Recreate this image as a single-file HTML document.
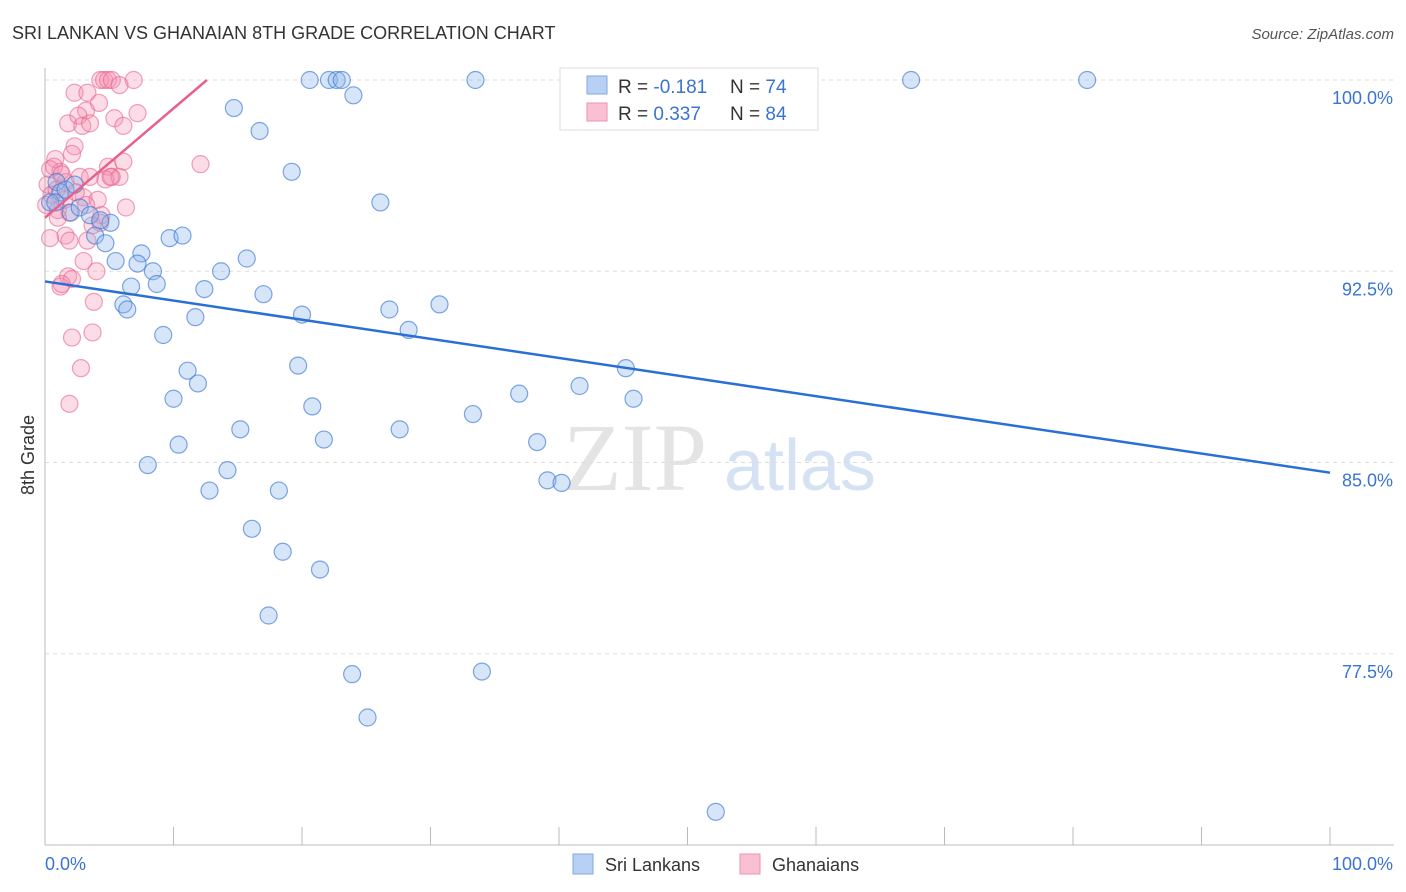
<!DOCTYPE html>
<html><head><meta charset="utf-8"><style>
body{margin:0;background:#fff;font-family:"Liberation Sans",sans-serif;}
svg{display:block}
</style></head><body>
<svg id="chart" width="1406" height="892">
<text x="12" y="39" font-size="18" fill="#333">SRI LANKAN VS GHANAIAN 8TH GRADE CORRELATION CHART</text>
<text x="1394" y="39" font-size="15" fill="#555" font-style="italic" text-anchor="end">Source: ZipAtlas.com</text>
<text x="635" y="490" font-size="96" fill="#e4e4e4" font-family="Liberation Serif,serif" text-anchor="middle">ZIP</text>
<text x="800" y="490" font-size="72" fill="#d4e2f4" text-anchor="middle">atlas</text>
<text transform="translate(34,455) rotate(-90)" font-size="18" fill="#333" text-anchor="middle">8th Grade</text>
<g id="grid"></g><g id="pts"></g><g id="trend"></g>
<g>
<rect x="560" y="68" width="258" height="62" fill="#fff" stroke="#ddd"/>
<rect x="587" y="76" width="20" height="18" fill="#b7d0f3" stroke="#7fa8e0"/>
<rect x="587" y="103" width="20" height="18" fill="#f8c0d2" stroke="#ef8fb0"/>
<text x="618" y="93" font-size="19" fill="#333">R = <tspan fill="#3a74d0">-0.181</tspan></text>
<text x="730" y="93" font-size="19" fill="#333">N = <tspan fill="#3a74d0">74</tspan></text>
<text x="618" y="120" font-size="19" fill="#333">R = <tspan fill="#3a74d0">0.337</tspan></text>
<text x="730" y="120" font-size="19" fill="#333">N = <tspan fill="#3a74d0">84</tspan></text>
</g>
<g>
<rect x="573" y="854" width="20" height="20" fill="#b7d0f3" stroke="#7fa8e0"/>
<text x="605" y="871" font-size="18" fill="#333">Sri Lankans</text>
<rect x="740" y="854" width="20" height="20" fill="#f8c0d2" stroke="#ef8fb0"/>
<text x="772" y="871" font-size="18" fill="#333">Ghanaians</text>
</g>
</svg>
<script>
const yTicks=[100,92.5,85,77.5];
const yTickLabels=["100.0%","92.5%","85.0%","77.5%"];
const blueX=[20.6,22.1,22.7,23.1,33.5,67.4,81.1,24.0,14.7,16.7,19.2,26.1,0.9,1.2,0.4,2.0,2.7,3.5,5.1,3.9,4.7,5.5,7.5,7.2,8.4,6.7,8.7,9.7,10.7,13.7,15.7,12.4,17.0,6.1,6.4,11.7,20.0,26.8,30.7,28.3,9.2,11.1,11.9,10.0,19.7,20.8,45.2,41.6,45.8,36.9,33.3,15.2,10.4,21.7,27.6,38.3,8.0,14.2,12.8,18.2,39.1,40.2,16.1,18.5,21.4,17.4,23.9,34.0,25.1,52.2,1.6,2.3,0.8,4.3];
const blueY=[100,100,100,100,100,100,100,99.4,98.9,98.0,96.4,95.2,96.0,95.6,95.2,94.8,95.0,94.7,94.4,93.9,93.6,92.9,93.2,92.8,92.5,91.9,92.0,93.8,93.9,92.5,93.0,91.8,91.6,91.2,91.0,90.7,90.8,91.0,91.2,90.2,90.0,88.6,88.1,87.5,88.8,87.2,88.7,88.0,87.5,87.7,86.9,86.3,85.7,85.9,86.3,85.8,84.9,84.7,83.9,83.9,84.3,84.2,82.4,81.5,80.8,79.0,76.7,76.8,75.0,71.3,95.7,95.9,95.2,94.5];
const pinkX=[4.3,4.6,4.9,5.2,6.9,5.8,2.3,3.3,3.2,4.2,1.8,2.6,2.9,3.5,5.4,6.1,7.2,2.3,2.1,0.8,0.4,1.2,1.6,2.7,3.5,4.9,5.2,6.1,12.1,4.7,5.8,0.2,0.5,1.0,1.5,1.9,3.0,4.1,6.3,4.4,3.7,1.6,0.4,3.3,1.9,3.0,4.0,1.8,2.1,1.2,1.3,3.8,3.7,2.1,2.8,1.9,0.7,0.9,1.3,2.4,3.2,1.0,0.1,4.3,5.1];
const pinkY=[100,100,100,100,100,99.8,99.5,99.5,98.8,99.1,98.3,98.6,98.2,98.3,98.5,98.2,98.7,97.4,97.1,96.9,96.5,96.4,96.0,96.2,96.2,96.6,96.2,96.8,96.7,96.1,96.2,95.9,95.5,94.9,95.3,94.8,95.4,95.3,95.0,94.7,94.3,93.9,93.8,93.7,93.7,92.9,92.5,92.3,92.2,91.9,92.0,91.3,90.1,89.9,88.7,87.3,96.6,95.7,96.3,95.6,95.1,94.6,95.1,94.4,96.2];
const blueTrend=[0,92.1,100,84.6];
const pinkTrend=[0,94.6,12.6,100];
const X=v=>45+v*12.85, Y=v=>80+(100-v)*25.5;
const NS="http://www.w3.org/2000/svg";
function mk(t,a,p){const e=document.createElementNS(NS,t);for(const k in a)e.setAttribute(k,a[k]);p.appendChild(e);return e;}
const g=document.getElementById('grid');
yTicks.forEach((t,i)=>{
 const l=mk('line',{x1:45,x2:1394,y1:Y(t),y2:Y(t),stroke:'#ddd','stroke-dasharray':'4,4'},g);
 
 
 const tx=mk('text',{x:1393,y:Y(t)+24,'font-size':18,fill:'#3a74d0','text-anchor':'end'},g);
 tx.textContent=yTickLabels[i];
 
 
});
const ax=mk('line',{x1:45,x2:45,y1:68,y2:845,stroke:'#bbb'},g);


const bx=mk('line',{x1:45,x2:1394,y1:845,y2:845,stroke:'#bbb'},g);


for(let i=1;i<=10;i++){const t=mk('line',{x1:X(i*10),x2:X(i*10),y1:827,y2:845,stroke:'#bbb'},g);
 
 }
const x0=mk('text',{x:45,y:870,'font-size':18,fill:'#3a74d0'},g);x0.textContent='0.0%';


const x1=mk('text',{x:1393,y:870,'font-size':18,fill:'#3a74d0','text-anchor':'end'},g);x1.textContent='100.0%';


const p=document.getElementById('pts');
pinkX.forEach((v,i)=>{const c=mk('circle',{cx:X(v),cy:Y(pinkY[i]),r:8.5,fill:'rgba(244,143,177,0.3)',stroke:'rgba(232,100,140,0.6)','stroke-width':1.2},p);
 
 });
blueX.forEach((v,i)=>{const c=mk('circle',{cx:X(v),cy:Y(blueY[i]),r:8.5,fill:'rgba(140,180,235,0.35)',stroke:'rgba(60,120,210,0.65)','stroke-width':1.2},p);
 
 });
const tr=document.getElementById('trend');
const bl=mk('line',{x1:X(blueTrend[0]),y1:Y(blueTrend[1]),x2:X(blueTrend[2]),y2:Y(blueTrend[3]),stroke:'#2a6fd6','stroke-width':2.5},tr);


const pl=mk('line',{x1:X(pinkTrend[0]),y1:Y(pinkTrend[1]),x2:X(pinkTrend[2]),y2:Y(pinkTrend[3]),stroke:'#e8608c','stroke-width':2.5},tr);


</script>
</body></html>
